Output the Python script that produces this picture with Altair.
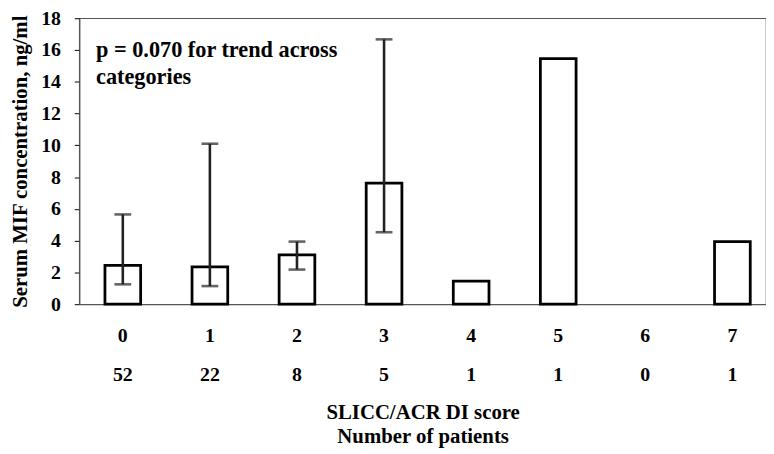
import altair as alt
import pandas as pd

# ---- data ----
scores = ["0", "1", "2", "3", "4", "5", "6", "7"]
patients = [52, 22, 8, 5, 1, 1, 0, 1]
mif = [2.45, 2.35, 3.11, 7.62, 1.45, 15.46, None, 3.94]
err_low = [1.25, 1.14, 2.18, 4.53, None, None, None, None]
err_high = [5.65, 10.1, 3.94, 16.67, None, None, None, None]
y_ticks = [0, 2, 4, 6, 8, 10, 12, 14, 16, 18]
note_lines = ["p = 0.070 for trend across", "categories"]
x_title = ["SLICC/ACR DI score", "Number of patients"]
y_title = "Serum MIF concentration, ng/ml"

df = pd.DataFrame({
    "score": scores,
    "n": [str(p) for p in patients],
    "mif": mif,
    "lo": err_low,
    "hi": err_high,
})
bars_df = df.dropna(subset=["mif"])
err_df = df.dropna(subset=["lo"])

FONT = "Liberation Serif"

xscale = alt.Scale(domain=scores, paddingInner=0.59, paddingOuter=0.238, align=0.62)
yscale = alt.Scale(domain=[0, 18], nice=False, zero=True)

x_axis = alt.Axis(
    title=x_title, labelAngle=0, ticks=False, labelPadding=22,
    titlePadding=57, titleLineHeight=24, titleFontSize=21,
)
y_axis = alt.Axis(
    title=y_title, values=y_ticks, tickCount=10, tickSize=5, labelPadding=14,
    titlePadding=10, labelOverlap=False, titleFontSize=21,
)

x_enc = alt.X("score:N", scale=xscale, sort=scores, axis=x_axis)

bars = alt.Chart(bars_df).mark_bar(
    fill="white", stroke="black", strokeWidth=2.8
).encode(x=x_enc, y=alt.Y("mif:Q", scale=yscale, axis=y_axis))

rules = alt.Chart(err_df).mark_rule(color="#222", strokeWidth=2.6).encode(
    x=x_enc,
    y=alt.Y("lo:Q", scale=yscale, axis=y_axis),
    y2="hi:Q",
)
caps_hi = alt.Chart(err_df).mark_tick(color="#222", thickness=2.6, size=17).encode(
    x=x_enc,
    y=alt.Y("hi:Q", scale=yscale, axis=y_axis),
)
caps_lo = alt.Chart(err_df).mark_tick(color="#222", thickness=2.6, size=17).encode(
    x=x_enc,
    y=alt.Y("lo:Q", scale=yscale, axis=y_axis),
)

counts = alt.Chart(df).mark_text(
    font=FONT, fontSize=20, fontWeight="bold", color="black", baseline="middle"
).encode(
    x=x_enc,
    y=alt.value(361),
    text="n:N",
)

note = alt.Chart(alt.Data(values=[{}])).mark_text(
    text=note_lines, font=FONT, fontSize=22.5, fontWeight="bold", color="black",
    align="left", baseline="alphabetic", lineHeight=27,
).encode(x=alt.value(17), y=alt.value(39))

chart = alt.layer(bars, rules, caps_hi, caps_lo, counts, note).properties(
    width=694, height=289,
    autosize=alt.AutoSizeParams(type="none"),
    padding={"left": 72, "top": 8, "right": 0, "bottom": 144},
).configure_view(
    stroke="#555", strokeWidth=1.2
).configure_axis(
    grid=False,
    labelFont=FONT, labelFontSize=20, labelFontWeight="bold", labelColor="black",
    titleFont=FONT, titleFontWeight="bold", titleColor="black",
    domainColor="#555", domainWidth=1.2, tickColor="black",
)

chart.save("out.html", embed_options={"renderer": "svg", "actions": False})
